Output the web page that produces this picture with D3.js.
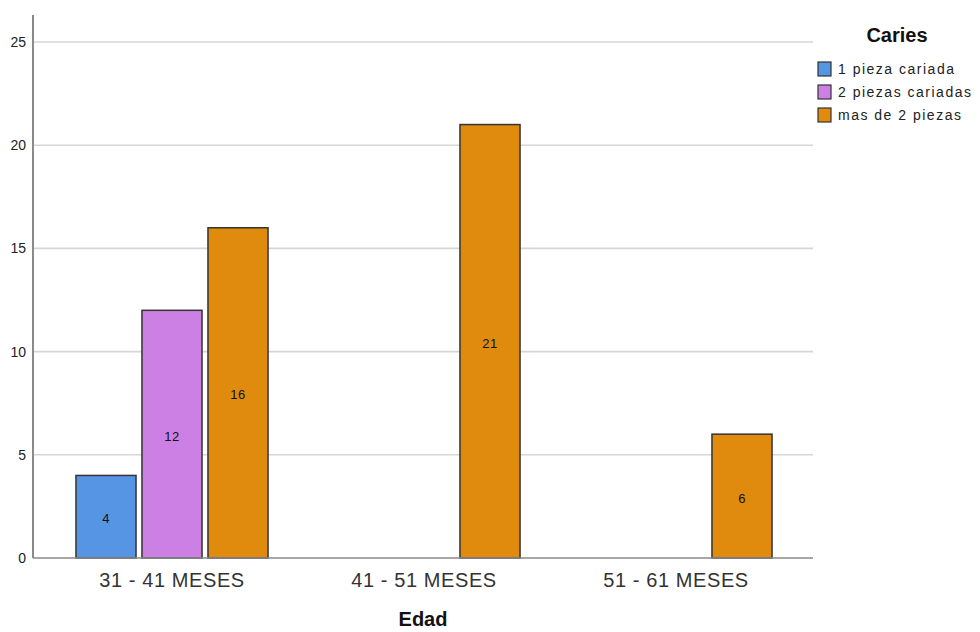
<!DOCTYPE html>
<html>
<head>
<meta charset="utf-8">
<script src="https://cdn.jsdelivr.net/npm/d3@7"></script>
<style>
  html, body { margin: 0; padding: 0; background: #fff; overflow: hidden; }
  text { font-family: Arial, "Liberation Sans", sans-serif; }
</style>
</head>
<body>
<svg id="chart" width="980" height="632"></svg>
<script>
// Age groups and caries categories
const categories = ["31 - 41 MESES", "41 - 51 MESES", "51 - 61 MESES"];
const seriesNames = ["1 pieza cariada", "2 piezas cariadas", "mas de 2 piezas"];
const seriesColors = ["#5595e3", "#cc80e3", "#e08a0e"];
// Counts per age group for each series (null = no bar)
const piezas1 = [4, null, null];
const piezas2 = [12, null, null];
const piezasMas2 = [16, 21, 6];
const yTicks = [0, 5, 10, 15, 20, 25];

const seriesValues = [piezas1, piezas2, piezasMas2];

const svg = d3.select("#chart");

const plot = { left: 33, right: 813, top: 15, bottom: 558 };

const x0 = d3.scaleBand().domain(categories).range([46, 802]).padding(0);
const x1 = d3.scaleBand().domain(seriesNames).range([-99, 99]).paddingInner(0.09).paddingOuter(0.045);
const y = d3.scaleLinear().domain([0, 25]).range([558, 42]);

// Grid lines
svg.append("g").selectAll("line")
  .data(yTicks.filter(t => t > 0))
  .join("line")
  .attr("x1", plot.left).attr("x2", plot.right)
  .attr("y1", d => y(d)).attr("y2", d => y(d))
  .attr("stroke", "#d6d6d6").attr("stroke-width", 1.6);

// Y axis
const yAxis = svg.append("g")
  .attr("transform", `translate(${plot.left},0)`)
  .call(d3.axisLeft(y).tickValues(yTicks).tickSize(0).tickPadding(7));
yAxis.select(".domain").remove();
yAxis.selectAll("text").attr("font-size", 14).attr("fill", "#222");
svg.append("line")
  .attr("x1", plot.left).attr("x2", plot.left)
  .attr("y1", plot.top).attr("y2", plot.bottom)
  .attr("stroke", "#8a8a8a").attr("stroke-width", 2);

// Bars
const groups = svg.append("g").selectAll("g")
  .data(categories)
  .join("g")
  .attr("transform", d => `translate(${x0(d) + x0.bandwidth() / 2},0)`);

const barData = (c, ci) => seriesNames.map((s, si) => ({ s, si, v: seriesValues[si][ci] }))
  .filter(d => d.v != null);

groups.each(function (c, ci) {
  const g = d3.select(this);
  const data = barData(c, ci);
  g.selectAll("rect")
    .data(data)
    .join("rect")
    .attr("x", d => x1(d.s))
    .attr("width", x1.bandwidth())
    .attr("y", d => y(d.v))
    .attr("height", d => y(0) - y(d.v))
    .attr("fill", d => seriesColors[d.si])
    .attr("stroke", "#333")
    .attr("stroke-width", 1.5);
  g.selectAll("text.val")
    .data(data)
    .join("text")
    .attr("class", "val")
    .attr("x", d => x1(d.s) + x1.bandwidth() / 2)
    .attr("y", d => (y(d.v) + y(0)) / 2 + 2)
    .attr("dy", "0.35em")
    .attr("text-anchor", "middle")
    .attr("font-size", 13)
    .attr("letter-spacing", 0.5)
    .attr("fill", "#111")
    .text(d => d.v);
});

// X axis baseline
svg.append("line")
  .attr("x1", plot.left).attr("x2", plot.right)
  .attr("y1", plot.bottom).attr("y2", plot.bottom)
  .attr("stroke", "#8a8a8a").attr("stroke-width", 1.5);

const xAxis = svg.append("g")
  .attr("transform", `translate(0,${plot.bottom})`)
  .call(d3.axisBottom(x0).tickSize(0).tickPadding(0));
xAxis.select(".domain").remove();
xAxis.selectAll("text")
  .attr("y", 29).attr("dy", null)
  .attr("font-size", 20).attr("letter-spacing", 0.6).attr("fill", "#333");

// Axis title
svg.append("text")
  .attr("x", 423).attr("y", 626)
  .attr("text-anchor", "middle")
  .attr("font-size", 20).attr("font-weight", "bold").attr("fill", "#111")
  .text("Edad");

// Legend
svg.append("text")
  .attr("x", 897).attr("y", 42)
  .attr("text-anchor", "middle")
  .attr("font-size", 20).attr("font-weight", "bold").attr("fill", "#111")
  .text("Caries");

const legend = svg.append("g").selectAll("g")
  .data(seriesNames)
  .join("g")
  .attr("transform", (d, i) => `translate(818,${62 + i * 23})`);
legend.append("rect")
  .attr("width", 13).attr("height", 14)
  .attr("fill", (d, i) => seriesColors[i])
  .attr("stroke", "#333").attr("stroke-width", 1.2);
legend.append("text")
  .attr("x", 20).attr("y", 7).attr("dy", "0.35em")
  .attr("font-size", 14).attr("letter-spacing", 1.5).attr("fill", "#222")
  .text(d => d);
</script>
</body>
</html>
